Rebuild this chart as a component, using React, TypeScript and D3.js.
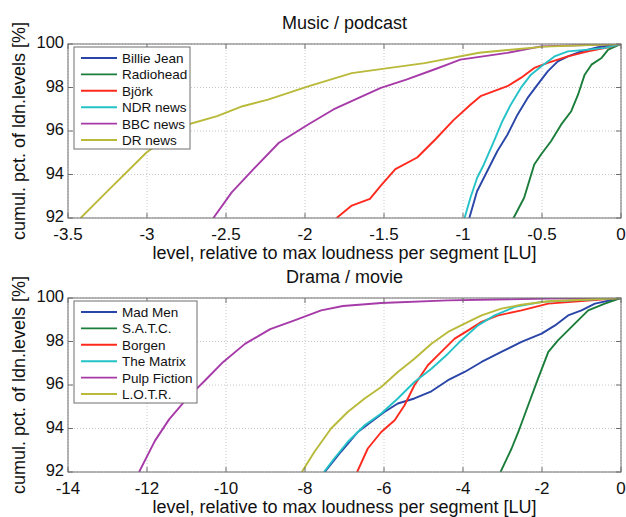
import React from "react";
import * as d3 from "d3";

// level [LU] vs cumulative pct
const billieJean = [[-0.96,92],[-0.911,93.23],[-0.847,94.15],[-0.783,95.07],[-0.719,95.83],[-0.655,96.75],[-0.591,97.52],[-0.528,98.13],[-0.464,98.74],[-0.4,99.2],[-0.336,99.43],[-0.251,99.66],[-0.145,99.85],[0,100]];
const radiohead = [[-0.68,92],[-0.613,92.93],[-0.549,94.46],[-0.506,94.92],[-0.443,95.53],[-0.379,96.29],[-0.315,96.91],[-0.272,97.67],[-0.23,98.59],[-0.187,99.05],[-0.123,99.36],[-0.081,99.74],[0,100]];
const bjork = [[-1.8,92],[-1.704,92.57],[-1.589,92.88],[-1.52,93.49],[-1.428,94.25],[-1.29,94.78],[-1.174,95.62],[-1.06,96.5],[-0.953,97.21],[-0.889,97.6],[-0.804,97.83],[-0.719,98.06],[-0.634,98.44],[-0.549,98.9],[-0.464,99.13],[-0.336,99.43],[-0.209,99.66],[-0.081,99.85],[0,100]];
const ndrNews = [[-0.99,92],[-0.953,92.93],[-0.911,93.84],[-0.868,94.46],[-0.804,95.53],[-0.751,96.45],[-0.698,97.21],[-0.634,97.98],[-0.57,98.59],[-0.506,98.97],[-0.421,99.43],[-0.336,99.66],[-0.209,99.74],[-0.102,99.82],[0,100]];
const bbcNews = [[-2.58,92],[-2.464,93.18],[-2.326,94.25],[-2.165,95.46],[-1.98,96.3],[-1.82,96.99],[-1.66,97.52],[-1.52,97.98],[-1.359,98.36],[-1.174,98.85],[-1.1,99.05],[-1.017,99.28],[-0.72,99.59],[-0.506,99.89],[0,100]];
const drNews = [[-3.42,92],[-3.247,93.26],[-3.005,95.0],[-2.775,96.23],[-2.556,96.68],[-2.395,97.14],[-2.234,97.44],[-1.98,98.05],[-1.704,98.66],[-1.474,98.89],[-1.243,99.12],[-0.898,99.6],[-0.484,99.88],[0,100]];

const madMen = [[-7.5,92],[-7.09,92.93],[-6.66,93.84],[-6.33,94.3],[-5.99,94.76],[-5.65,95.15],[-5.23,95.38],[-4.8,95.71],[-4.38,96.22],[-3.96,96.6],[-3.53,97.06],[-3.03,97.52],[-2.52,97.98],[-2.01,98.36],[-1.67,98.74],[-1.34,99.2],[-1.0,99.43],[-0.66,99.74],[0,100]];
const satc = [[-3.05,92],[-2.77,93.08],[-2.6,93.84],[-2.35,95.07],[-2.1,96.29],[-1.84,97.52],[-1.59,98.06],[-1.17,98.82],[-0.83,99.43],[-0.41,99.74],[0,100]];
const borgen = [[-6.68,92],[-6.41,93.08],[-6.07,93.84],[-5.73,94.38],[-5.48,95.07],[-5.23,95.99],[-4.89,96.91],[-4.55,97.52],[-4.21,98.13],[-3.87,98.51],[-3.53,98.9],[-3.11,99.2],[-2.52,99.43],[-1.84,99.74],[0,100]];
const theMatrix = [[-7.52,92],[-7.26,92.62],[-6.92,93.38],[-6.49,94.15],[-6.07,94.69],[-5.65,95.38],[-5.23,96.14],[-4.8,96.75],[-4.38,97.44],[-4.04,98.06],[-3.62,98.74],[-3.2,99.2],[-2.69,99.59],[-2.01,99.82],[0,100]];
const pulpFiction = [[-12.2,92],[-11.8,93.43],[-11.44,94.42],[-10.98,95.4],[-10.52,96.23],[-10.07,97.06],[-9.52,97.89],[-8.88,98.57],[-8.3,98.95],[-7.59,99.43],[-7.04,99.63],[-6.07,99.77],[-4.38,99.89],[-1.84,99.97],[0,100]];
const lotr = [[-8.08,92],[-7.76,92.93],[-7.34,94.0],[-6.92,94.76],[-6.49,95.38],[-6.07,95.91],[-5.65,96.6],[-5.23,97.21],[-4.8,97.9],[-4.38,98.44],[-3.96,98.82],[-3.53,99.2],[-3.03,99.51],[-2.52,99.69],[-1.84,99.85],[0,100]];

const musicNames = ["Billie Jean", "Radiohead", "Björk", "NDR news", "BBC news", "DR news"];
const dramaNames = ["Mad Men", "S.A.T.C.", "Borgen", "The Matrix", "Pulp Fiction", "L.O.T.R."];
const colors = ["#2a45a8", "#1b7d3a", "#ff2a1e", "#25c2c8", "#a63aa8", "#b9b93a"];

const musicTicks = [-3.5, -3, -2.5, -2, -1.5, -1, -0.5, 0];
const dramaTicks = [-14, -12, -10, -8, -6, -4, -2, 0];
const pctTicks = [92, 94, 96, 98, 100];

const FONT = "'Liberation Sans', Arial, sans-serif";
const left = 68, right = 621, plotH = 174;

function Panel({ top, title, xDomain, xTicks, series, names, legendW, clipId }) {
  const x = d3.scaleLinear().domain(xDomain).range([left, right]);
  const y = d3.scaleLinear().domain([92, 100]).range([top + plotH, top]);
  const line = d3.line().x((d) => x(d[0])).y((d) => y(d[1]));
  const bottom = top + plotH;
  return (
    <g>
      <defs>
        <clipPath id={clipId}>
          <rect x={left} y={top} width={right - left} height={plotH} />
        </clipPath>
      </defs>
      <rect x={left} y={top} width={right - left} height={plotH} fill="#fff" />
      {xTicks.map((t) => (
        <line key={"gx" + t} x1={x(t)} x2={x(t)} y1={top} y2={bottom} stroke="#c8c8c8" strokeDasharray="1,2" />
      ))}
      {pctTicks.map((t) => (
        <line key={"gy" + t} x1={left} x2={right} y1={y(t)} y2={y(t)} stroke="#c8c8c8" strokeDasharray="1,2" />
      ))}
      <g clipPath={`url(#${clipId})`}>
        {series.map((s, i) => (
          <path key={i} d={line(s)} fill="none" stroke={colors[i]} strokeWidth={1.9} strokeLinejoin="round" />
        ))}
      </g>
      <rect x={left} y={top} width={right - left} height={plotH} fill="none" stroke="#6e6e6e" strokeWidth={1} />
      {xTicks.map((t) => (
        <g key={"tx" + t}>
          <line x1={x(t)} x2={x(t)} y1={bottom} y2={bottom - 5} stroke="#6e6e6e" />
          <line x1={x(t)} x2={x(t)} y1={top} y2={top + 5} stroke="#6e6e6e" />
          <text x={x(t)} y={bottom + 22} textAnchor="middle" fontSize={17} fontFamily={FONT} fill="#111">{t}</text>
        </g>
      ))}
      {pctTicks.map((t) => (
        <g key={"ty" + t}>
          <line x1={left} x2={left + 5} y1={y(t)} y2={y(t)} stroke="#6e6e6e" />
          <line x1={right} x2={right - 5} y1={y(t)} y2={y(t)} stroke="#6e6e6e" />
          <text x={left - 4} y={y(t) + 4} textAnchor="end" fontSize={16.5} fontFamily={FONT} fill="#111">{t}</text>
        </g>
      ))}
      <text x={(left + right) / 2} y={top - 15} textAnchor="middle" fontSize={18} fontFamily={FONT} fill="#111">{title}</text>
      <text x={(left + right) / 2} y={bottom + 41} textAnchor="middle" fontSize={18} fontFamily={FONT} fill="#111">
        level, relative to max loudness per segment [LU]
      </text>
      <text transform={`translate(25,${top + plotH / 2}) rotate(-90)`} textAnchor="middle" fontSize={18} fontFamily={FONT} fill="#111">
        cumul. pct. of ldn.levels [%]
      </text>
      <g>
        <rect x={74} y={top + 3} width={legendW} height={102} fill="#fff" stroke="#6e6e6e" />
        {names.map((n, i) => (
          <g key={n}>
            <line x1={81} x2={117} y1={top + 14 + i * 16.4} y2={top + 14 + i * 16.4} stroke={colors[i]} strokeWidth={1.9} />
            <text x={122} y={top + 19 + i * 16.4} fontSize={13.5} fontFamily={FONT} fill="#111">{n}</text>
          </g>
        ))}
      </g>
    </g>
  );
}

export default function App() {
  return (
    <svg width={626} height={517} style={{ position: "absolute", left: 0, top: 0, background: "#fff" }}>
      <rect width={626} height={517} fill="#fff" />
      <Panel top={44} title="Music / podcast" xDomain={[-3.5, 0]} xTicks={musicTicks}
        series={[billieJean, radiohead, bjork, ndrNews, bbcNews, drNews]} names={musicNames} legendW={116} clipId="c1" />
      <Panel top={298} title="Drama / movie" xDomain={[-14, 0]} xTicks={dramaTicks}
        series={[madMen, satc, borgen, theMatrix, pulpFiction, lotr]} names={dramaNames} legendW={123} clipId="c2" />
    </svg>
  );
}
